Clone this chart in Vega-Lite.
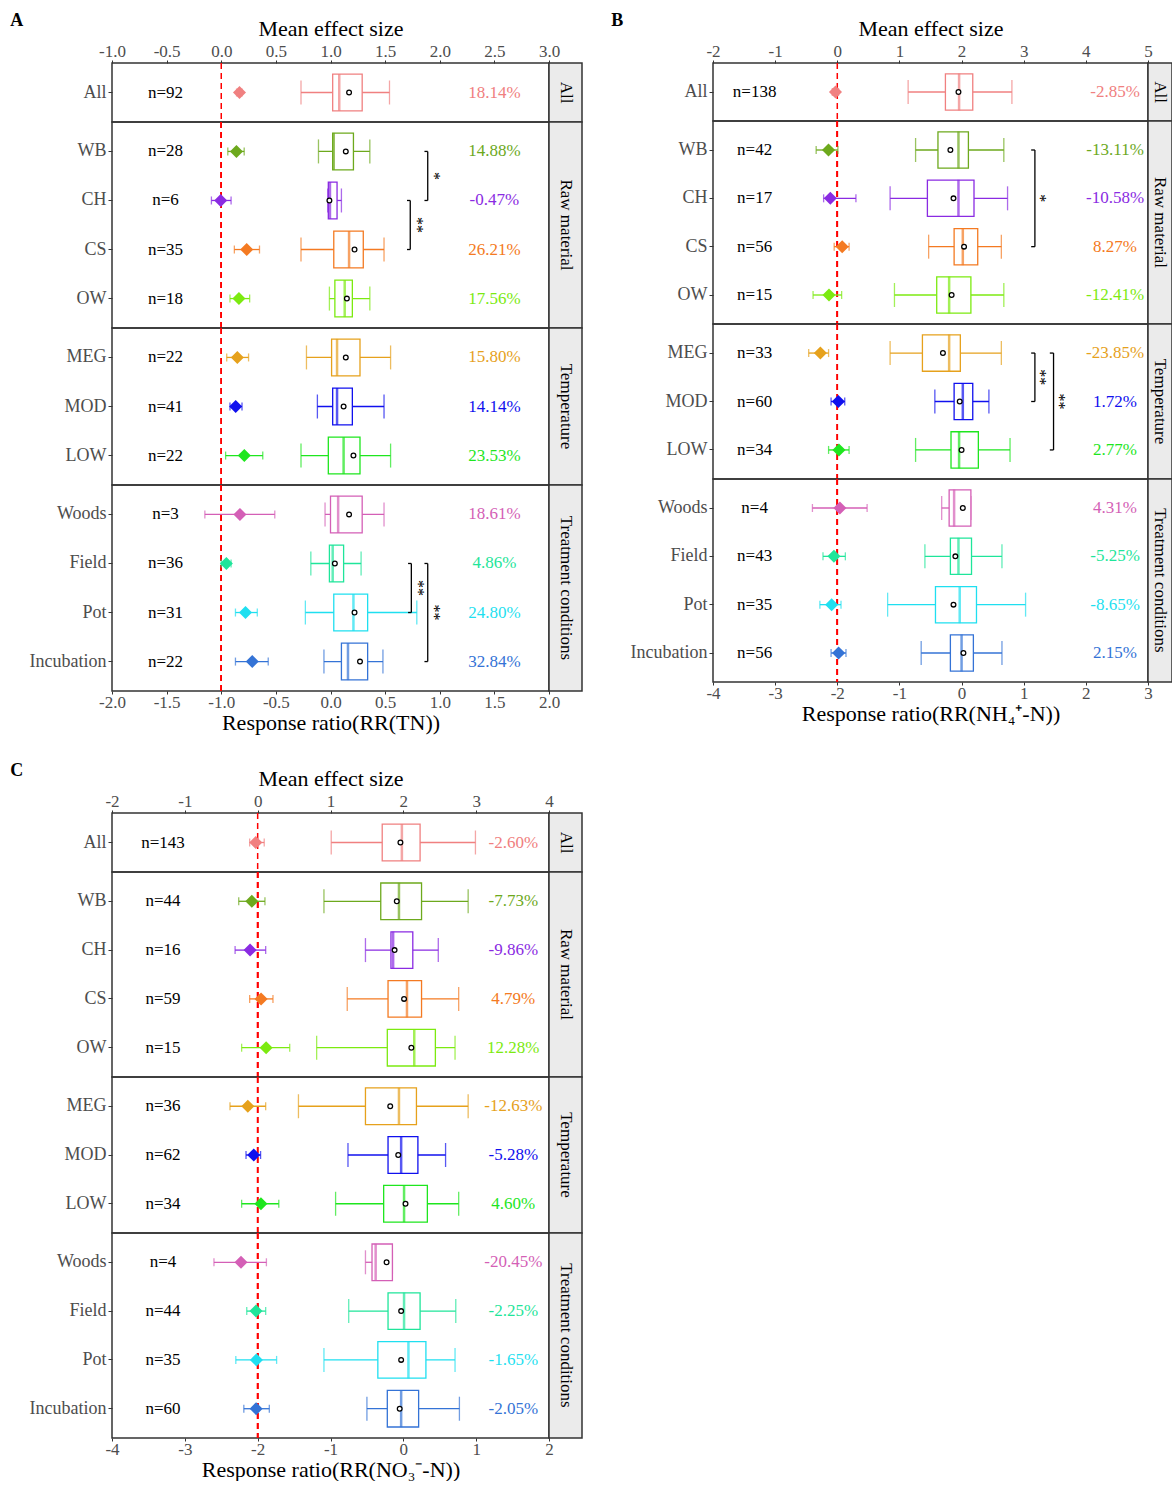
{
"$schema": "https://vega.github.io/schema/vega-lite/v6.json",
"background": "white",
"padding": {"left": 10, "top": 12, "right": 0, "bottom": 0},
"datasets": {
"A": [
{"g":"All","c":"All","n":"n=92","pct":"18.14%","es":0.167,"elo":0.14,"ehi":0.19,"wlo":-0.27,"q1":0.02,"med":0.08,"q3":0.29,"whi":0.54,"mean":0.17},
{"g":"Raw material","c":"WB","n":"n=28","pct":"14.88%","es":0.139,"elo":0.06,"ehi":0.21,"wlo":-0.11,"q1":0.02,"med":0.03,"q3":0.21,"whi":0.36,"mean":0.14},
{"g":"Raw material","c":"CH","n":"n=6","pct":"-0.47%","es":-0.005,"elo":-0.09,"ehi":0.09,"wlo":-0.025,"q1":-0.02,"med":-0.005,"q3":0.06,"whi":0.10,"mean":-0.01},
{"g":"Raw material","c":"CS","n":"n=35","pct":"26.21%","es":0.233,"elo":0.12,"ehi":0.35,"wlo":-0.27,"q1":0.03,"med":0.17,"q3":0.30,"whi":0.49,"mean":0.22},
{"g":"Raw material","c":"OW","n":"n=18","pct":"17.56%","es":0.162,"elo":0.08,"ehi":0.26,"wlo":-0.01,"q1":0.04,"med":0.13,"q3":0.20,"whi":0.36,"mean":0.15},
{"g":"Temperature","c":"MEG","n":"n=22","pct":"15.80%","es":0.147,"elo":0.05,"ehi":0.25,"wlo":-0.22,"q1":0.01,"med":0.06,"q3":0.27,"whi":0.55,"mean":0.14},
{"g":"Temperature","c":"MOD","n":"n=41","pct":"14.14%","es":0.132,"elo":0.08,"ehi":0.19,"wlo":-0.12,"q1":0.02,"med":0.06,"q3":0.20,"whi":0.49,"mean":0.12},
{"g":"Temperature","c":"LOW","n":"n=22","pct":"23.53%","es":0.211,"elo":0.04,"ehi":0.38,"wlo":-0.27,"q1":-0.02,"med":0.12,"q3":0.27,"whi":0.55,"mean":0.21},
{"g":"Treatment conditions","c":"Woods","n":"n=3","pct":"18.61%","es":0.171,"elo":-0.15,"ehi":0.49,"wlo":-0.05,"q1":0.0,"med":0.07,"q3":0.29,"whi":0.49,"mean":0.17},
{"g":"Treatment conditions","c":"Field","n":"n=36","pct":"4.86%","es":0.047,"elo":0.0,"ehi":0.09,"wlo":-0.18,"q1":-0.01,"med":0.02,"q3":0.12,"whi":0.28,"mean":0.04},
{"g":"Treatment conditions","c":"Pot","n":"n=31","pct":"24.80%","es":0.222,"elo":0.13,"ehi":0.33,"wlo":-0.23,"q1":0.03,"med":0.21,"q3":0.34,"whi":0.79,"mean":0.22},
{"g":"Treatment conditions","c":"Incubation","n":"n=22","pct":"32.84%","es":0.284,"elo":0.13,"ehi":0.43,"wlo":-0.06,"q1":0.10,"med":0.16,"q3":0.34,"whi":0.48,"mean":0.27}
],
"B": [
{"g":"All","c":"All","n":"n=138","pct":"-2.85%","es":-0.029,"elo":-0.08,"ehi":0.02,"wlo":-0.86,"q1":-0.26,"med":-0.04,"q3":0.18,"whi":0.81,"mean":-0.05},
{"g":"Raw material","c":"WB","n":"n=42","pct":"-13.11%","es":-0.141,"elo":-0.34,"ehi":0.01,"wlo":-0.74,"q1":-0.38,"med":-0.05,"q3":0.11,"whi":0.68,"mean":-0.18},
{"g":"Raw material","c":"CH","n":"n=17","pct":"-10.58%","es":-0.112,"elo":-0.22,"ehi":0.30,"wlo":-1.15,"q1":-0.55,"med":-0.05,"q3":0.20,"whi":0.74,"mean":-0.13},
{"g":"Raw material","c":"CS","n":"n=56","pct":"8.27%","es":0.079,"elo":-0.05,"ehi":0.19,"wlo":-0.53,"q1":-0.12,"med":0.02,"q3":0.26,"whi":0.64,"mean":0.04},
{"g":"Raw material","c":"OW","n":"n=15","pct":"-12.41%","es":-0.133,"elo":-0.39,"ehi":0.07,"wlo":-1.08,"q1":-0.40,"med":-0.20,"q3":0.15,"whi":0.68,"mean":-0.16},
{"g":"Temperature","c":"MEG","n":"n=33","pct":"-23.85%","es":-0.272,"elo":-0.46,"ehi":-0.14,"wlo":-1.15,"q1":-0.63,"med":-0.20,"q3":-0.02,"whi":0.64,"mean":-0.30},
{"g":"Temperature","c":"MOD","n":"n=60","pct":"1.72%","es":0.017,"elo":-0.10,"ehi":0.12,"wlo":-0.43,"q1":-0.12,"med":0.02,"q3":0.18,"whi":0.44,"mean":-0.03},
{"g":"Temperature","c":"LOW","n":"n=34","pct":"2.77%","es":0.027,"elo":-0.14,"ehi":0.19,"wlo":-0.74,"q1":-0.17,"med":-0.04,"q3":0.27,"whi":0.78,"mean":0.0},
{"g":"Treatment conditions","c":"Woods","n":"n=4","pct":"4.31%","es":0.042,"elo":-0.40,"ehi":0.48,"wlo":-0.32,"q1":-0.20,"med":-0.12,"q3":0.15,"whi":0.15,"mean":0.02},
{"g":"Treatment conditions","c":"Field","n":"n=43","pct":"-5.25%","es":-0.054,"elo":-0.23,"ehi":0.13,"wlo":-0.59,"q1":-0.18,"med":-0.05,"q3":0.16,"whi":0.65,"mean":-0.10},
{"g":"Treatment conditions","c":"Pot","n":"n=35","pct":"-8.65%","es":-0.091,"elo":-0.28,"ehi":0.06,"wlo":-1.19,"q1":-0.42,"med":-0.03,"q3":0.24,"whi":1.03,"mean":-0.13},
{"g":"Treatment conditions","c":"Incubation","n":"n=56","pct":"2.15%","es":0.021,"elo":-0.10,"ehi":0.14,"wlo":-0.65,"q1":-0.18,"med":0.0,"q3":0.19,"whi":0.65,"mean":0.03}
],
"C": [
{"g":"All","c":"All","n":"n=143","pct":"-2.60%","es":-0.026,"elo":-0.11,"ehi":0.09,"wlo":-0.99,"q1":-0.29,"med":-0.02,"q3":0.23,"whi":0.99,"mean":-0.04},
{"g":"Raw material","c":"WB","n":"n=44","pct":"-7.73%","es":-0.080,"elo":-0.26,"ehi":0.10,"wlo":-1.09,"q1":-0.31,"med":-0.06,"q3":0.25,"whi":0.89,"mean":-0.09},
{"g":"Raw material","c":"CH","n":"n=16","pct":"-9.86%","es":-0.104,"elo":-0.31,"ehi":0.11,"wlo":-0.52,"q1":-0.17,"med":-0.14,"q3":0.13,"whi":0.48,"mean":-0.12},
{"g":"Raw material","c":"CS","n":"n=59","pct":"4.79%","es":0.047,"elo":-0.11,"ehi":0.21,"wlo":-0.77,"q1":-0.21,"med":0.05,"q3":0.25,"whi":0.76,"mean":0.01},
{"g":"Raw material","c":"OW","n":"n=15","pct":"12.28%","es":0.116,"elo":-0.22,"ehi":0.44,"wlo":-1.19,"q1":-0.22,"med":0.15,"q3":0.44,"whi":0.71,"mean":0.11},
{"g":"Temperature","c":"MEG","n":"n=36","pct":"-12.63%","es":-0.135,"elo":-0.38,"ehi":0.11,"wlo":-1.44,"q1":-0.52,"med":-0.06,"q3":0.18,"whi":0.89,"mean":-0.18},
{"g":"Temperature","c":"MOD","n":"n=62","pct":"-5.28%","es":-0.054,"elo":-0.16,"ehi":0.04,"wlo":-0.76,"q1":-0.21,"med":-0.03,"q3":0.20,"whi":0.58,"mean":-0.07},
{"g":"Temperature","c":"LOW","n":"n=34","pct":"4.60%","es":0.045,"elo":-0.22,"ehi":0.29,"wlo":-0.93,"q1":-0.27,"med":0.01,"q3":0.33,"whi":0.76,"mean":0.03},
{"g":"Treatment conditions","c":"Woods","n":"n=4","pct":"-20.45%","es":-0.229,"elo":-0.60,"ehi":0.12,"wlo":-0.52,"q1":-0.43,"med":-0.38,"q3":-0.15,"whi":-0.15,"mean":-0.23},
{"g":"Treatment conditions","c":"Field","n":"n=44","pct":"-2.25%","es":-0.023,"elo":-0.15,"ehi":0.11,"wlo":-0.75,"q1":-0.21,"med":0.01,"q3":0.23,"whi":0.72,"mean":-0.03},
{"g":"Treatment conditions","c":"Pot","n":"n=35","pct":"-1.65%","es":-0.017,"elo":-0.30,"ehi":0.26,"wlo":-1.09,"q1":-0.35,"med":0.07,"q3":0.31,"whi":0.71,"mean":-0.03},
{"g":"Treatment conditions","c":"Incubation","n":"n=60","pct":"-2.05%","es":-0.021,"elo":-0.19,"ehi":0.16,"wlo":-0.50,"q1":-0.22,"med":-0.03,"q3":0.21,"whi":0.77,"mean":-0.05}
],
"brk": [
{"p":"A","g":"Raw material","from":"WB","to":"CH","bx":0.89,"cx":0.86,"sx":0.95,"star":"*","srow":"WB","mid":false},
{"p":"A","g":"Raw material","from":"CH","to":"CS","bx":0.73,"cx":0.70,"sx":0.79,"star":"**","srow":"CH","mid":false},
{"p":"A","g":"Treatment conditions","from":"Field","to":"Pot","bx":0.74,"cx":0.71,"sx":0.80,"star":"**","srow":"Field","mid":false},
{"p":"A","g":"Treatment conditions","from":"Field","to":"Incubation","bx":0.89,"cx":0.86,"sx":0.95,"star":"**","srow":"Pot","mid":true},
{"p":"B","g":"Raw material","from":"WB","to":"CS","bx":1.18,"cx":1.12,"sx":1.27,"star":"*","srow":"CH","mid":true},
{"p":"B","g":"Temperature","from":"MEG","to":"MOD","bx":1.18,"cx":1.12,"sx":1.27,"star":"**","srow":"MEG","mid":false},
{"p":"B","g":"Temperature","from":"MEG","to":"LOW","bx":1.48,"cx":1.42,"sx":1.57,"star":"**","srow":"MOD","mid":true}
]
},
"spacing": 28,
"vconcat": [
{"hconcat": [
{"title": {"text": "A", "anchor": "start", "frame": "bounds", "fontSize": 18, "fontWeight": "bold", "dx": -18, "dy": 18},
 "columns": 2, "align": "each", "spacing": 0, "bounds": "flush",
 "concat": [
{"width":437,"height":59,"data":{"name":"A"},"transform":[{"filter":"datum.g=='All'"}],"resolve":{"scale":{"x":"independent"},"axis":{"x":"independent"}},"layer":[
{"mark":{"type":"rule","color":"#FF0000","strokeDash":[6,4],"strokeWidth":1.5},"encoding":{"x":{"datum":0,"type":"quantitative","scale":{"domain":[-1,3],"nice":false,"zero":false},"axis":null}}},
{"encoding":{"y":{"field":"c","type":"nominal","title":null,"scale":{"type":"band","paddingInner":0,"paddingOuter":0.1,"domain":["All"]}},"color":{"field":"c","type":"nominal","scale":{"domain":["All","CH","CS","Field","Incubation","LOW","MEG","MOD","OW","Pot","WB","Woods"],"range":["#F08080","#8A2BE2","#F47A22","#1FE59A","#3473D6","#1EE61E","#E6A11C","#1010EE","#7CEA10","#1FDFF0","#6DA91D","#D45FB6"]}}},"layer":[
{"mark":{"type":"errorbar","ticks":true,"size":8,"thickness":1.3},"encoding":{"x":{"field":"elo","type":"quantitative","title":"Mean effect size","scale":{"domain":[-1,3],"nice":false,"zero":false}},"x2":{"field":"ehi"}}},
{"mark":{"type":"point","shape":"diamond","filled":true,"size":170,"opacity":1},"encoding":{"x":{"field":"es","type":"quantitative","title":"Mean effect size","scale":{"domain":[-1,3],"nice":false,"zero":false},"axis":{"orient":"top","title":"Mean effect size","values":[-1,-0.5,0,0.5,1,1.5,2,2.5,3],"format":".1f","labelFlush":false}}}},
{"mark":{"type":"text","fontSize":17},"encoding":{"x":{"datum":-0.51,"type":"quantitative"},"text":{"field":"n"},"color":{"value":"black"}}},
{"mark":{"type":"text","fontSize":17},"encoding":{"x":{"datum":2.5,"type":"quantitative"},"text":{"field":"pct"}}}]},
{"encoding":{"y":{"field":"c","type":"nominal","title":null,"scale":{"type":"band","paddingInner":0,"paddingOuter":0.1,"domain":["All"]}},"color":{"field":"c","type":"nominal"}},"layer":[
{"mark":{"type":"errorbar","ticks":true,"size":24,"thickness":1.3},"encoding":{"x":{"field":"wlo","type":"quantitative","scale":{"domain":[-2,2],"nice":false,"zero":false},"axis":null},"x2":{"field":"whi"}}},
{"mark":{"type":"bar","filled":false,"fill":"white","strokeWidth":1.3,"height":{"band":0.75}},"encoding":{"x":{"field":"q1","type":"quantitative","axis":null},"x2":{"field":"q3"}}},
{"mark":{"type":"tick","size":37,"thickness":2.5},"encoding":{"x":{"field":"med","type":"quantitative","axis":null}}},
{"mark":{"type":"point","shape":"circle","filled":false,"fill":"white","size":22,"strokeWidth":1.3,"opacity":1},"encoding":{"x":{"field":"mean","type":"quantitative","axis":null},"color":{"value":"black"}}}]}]},
{"width":33,"height":59,"view":{"fill":"#EBEBEB","stroke":"#333333","strokeWidth":1.5},"data":{"values":[{"s":"All"}]},"mark":{"type":"text","angle":90,"fontSize":17,"color":"black"},"encoding":{"text":{"field":"s"}}},

{"width":437,"height":206,"data":{"name":"A"},"transform":[{"filter":"datum.g=='Raw material'"}],"resolve":{"scale":{"x":"independent"},"axis":{"x":"independent"}},"layer":[
{"mark":{"type":"rule","color":"#FF0000","strokeDash":[6,4],"strokeWidth":1.5},"encoding":{"x":{"datum":0,"type":"quantitative","scale":{"domain":[-1,3],"nice":false,"zero":false},"axis":null}}},
{"encoding":{"y":{"field":"c","type":"nominal","title":null,"scale":{"type":"band","paddingInner":0,"paddingOuter":0.1,"domain":["WB","CH","CS","OW"]}},"color":{"field":"c","type":"nominal"}},"layer":[
{"mark":{"type":"errorbar","ticks":true,"size":8,"thickness":1.3},"encoding":{"x":{"field":"elo","type":"quantitative","scale":{"domain":[-1,3],"nice":false,"zero":false},"axis":null},"x2":{"field":"ehi"}}},
{"mark":{"type":"point","shape":"diamond","filled":true,"size":170,"opacity":1},"encoding":{"x":{"field":"es","type":"quantitative","axis":null}}},
{"mark":{"type":"text","fontSize":17},"encoding":{"x":{"datum":-0.51,"type":"quantitative","axis":null},"text":{"field":"n"},"color":{"value":"black"}}},
{"mark":{"type":"text","fontSize":17},"encoding":{"x":{"datum":2.5,"type":"quantitative","axis":null},"text":{"field":"pct"}}}]},
{"encoding":{"y":{"field":"c","type":"nominal","title":null,"scale":{"type":"band","paddingInner":0,"paddingOuter":0.1,"domain":["WB","CH","CS","OW"]}},"color":{"field":"c","type":"nominal"}},"layer":[
{"mark":{"type":"errorbar","ticks":true,"size":24,"thickness":1.3},"encoding":{"x":{"field":"wlo","type":"quantitative","scale":{"domain":[-2,2],"nice":false,"zero":false},"axis":null},"x2":{"field":"whi"}}},
{"mark":{"type":"bar","filled":false,"fill":"white","strokeWidth":1.3,"height":{"band":0.75}},"encoding":{"x":{"field":"q1","type":"quantitative","axis":null},"x2":{"field":"q3"}}},
{"mark":{"type":"tick","size":37,"thickness":2.5},"encoding":{"x":{"field":"med","type":"quantitative","axis":null}}},
{"mark":{"type":"point","shape":"circle","filled":false,"fill":"white","size":22,"strokeWidth":1.3,"opacity":1},"encoding":{"x":{"field":"mean","type":"quantitative","axis":null},"color":{"value":"black"}}},
{"data":{"name":"brk"},"transform":[{"filter":"datum.p=='A' && datum.g=='Raw material'"}],"mark":{"type":"rule","strokeWidth":1.3},"encoding":{"x":{"field":"bx","type":"quantitative","axis":null},"y":{"field":"from","type":"nominal","title":null},"y2":{"field":"to"},"color":{"value":"black"}}},
{"data":{"name":"brk"},"transform":[{"filter":"datum.p=='A' && datum.g=='Raw material'"}],"mark":{"type":"rule","strokeWidth":1.3},"encoding":{"x":{"field":"cx","type":"quantitative","axis":null},"x2":{"field":"bx"},"y":{"field":"from","type":"nominal","title":null},"color":{"value":"black"}}},
{"data":{"name":"brk"},"transform":[{"filter":"datum.p=='A' && datum.g=='Raw material'"}],"mark":{"type":"rule","strokeWidth":1.3},"encoding":{"x":{"field":"cx","type":"quantitative","axis":null},"x2":{"field":"bx"},"y":{"field":"to","type":"nominal","title":null},"color":{"value":"black"}}},
{"data":{"name":"brk"},"transform":[{"filter":"datum.p=='A' && datum.g=='Raw material' && !datum.mid"}],"mark":{"type":"text","angle":90,"fontSize":16},"encoding":{"x":{"field":"sx","type":"quantitative","axis":null},"y":{"field":"srow","type":"nominal","bandPosition":1,"title":null},"text":{"field":"star"},"color":{"value":"black"}}},
{"data":{"name":"brk"},"transform":[{"filter":"datum.p=='A' && datum.g=='Raw material' && datum.mid"}],"mark":{"type":"text","angle":90,"fontSize":16},"encoding":{"x":{"field":"sx","type":"quantitative","axis":null},"y":{"field":"srow","type":"nominal","bandPosition":0.5,"title":null},"text":{"field":"star"},"color":{"value":"black"}}}]}]},
{"width":33,"height":206,"view":{"fill":"#EBEBEB","stroke":"#333333","strokeWidth":1.5},"data":{"values":[{"s":"Raw material"}]},"mark":{"type":"text","angle":90,"fontSize":17,"color":"black"},"encoding":{"text":{"field":"s"}}},

{"width":437,"height":157,"data":{"name":"A"},"transform":[{"filter":"datum.g=='Temperature'"}],"resolve":{"scale":{"x":"independent"},"axis":{"x":"independent"}},"layer":[
{"mark":{"type":"rule","color":"#FF0000","strokeDash":[6,4],"strokeWidth":1.5},"encoding":{"x":{"datum":0,"type":"quantitative","scale":{"domain":[-1,3],"nice":false,"zero":false},"axis":null}}},
{"encoding":{"y":{"field":"c","type":"nominal","title":null,"scale":{"type":"band","paddingInner":0,"paddingOuter":0.1,"domain":["MEG","MOD","LOW"]}},"color":{"field":"c","type":"nominal"}},"layer":[
{"mark":{"type":"errorbar","ticks":true,"size":8,"thickness":1.3},"encoding":{"x":{"field":"elo","type":"quantitative","scale":{"domain":[-1,3],"nice":false,"zero":false},"axis":null},"x2":{"field":"ehi"}}},
{"mark":{"type":"point","shape":"diamond","filled":true,"size":170,"opacity":1},"encoding":{"x":{"field":"es","type":"quantitative","axis":null}}},
{"mark":{"type":"text","fontSize":17},"encoding":{"x":{"datum":-0.51,"type":"quantitative","axis":null},"text":{"field":"n"},"color":{"value":"black"}}},
{"mark":{"type":"text","fontSize":17},"encoding":{"x":{"datum":2.5,"type":"quantitative","axis":null},"text":{"field":"pct"}}}]},
{"encoding":{"y":{"field":"c","type":"nominal","title":null,"scale":{"type":"band","paddingInner":0,"paddingOuter":0.1,"domain":["MEG","MOD","LOW"]}},"color":{"field":"c","type":"nominal"}},"layer":[
{"mark":{"type":"errorbar","ticks":true,"size":24,"thickness":1.3},"encoding":{"x":{"field":"wlo","type":"quantitative","scale":{"domain":[-2,2],"nice":false,"zero":false},"axis":null},"x2":{"field":"whi"}}},
{"mark":{"type":"bar","filled":false,"fill":"white","strokeWidth":1.3,"height":{"band":0.75}},"encoding":{"x":{"field":"q1","type":"quantitative","axis":null},"x2":{"field":"q3"}}},
{"mark":{"type":"tick","size":37,"thickness":2.5},"encoding":{"x":{"field":"med","type":"quantitative","axis":null}}},
{"mark":{"type":"point","shape":"circle","filled":false,"fill":"white","size":22,"strokeWidth":1.3,"opacity":1},"encoding":{"x":{"field":"mean","type":"quantitative","axis":null},"color":{"value":"black"}}}]}]},
{"width":33,"height":157,"view":{"fill":"#EBEBEB","stroke":"#333333","strokeWidth":1.5},"data":{"values":[{"s":"Temperature"}]},"mark":{"type":"text","angle":90,"fontSize":17,"color":"black"},"encoding":{"text":{"field":"s"}}},

{"width":437,"height":206,"data":{"name":"A"},"transform":[{"filter":"datum.g=='Treatment conditions'"}],"resolve":{"scale":{"x":"independent"},"axis":{"x":"independent"}},"layer":[
{"mark":{"type":"rule","color":"#FF0000","strokeDash":[6,4],"strokeWidth":1.5},"encoding":{"x":{"datum":0,"type":"quantitative","scale":{"domain":[-1,3],"nice":false,"zero":false},"axis":null}}},
{"encoding":{"y":{"field":"c","type":"nominal","title":null,"scale":{"type":"band","paddingInner":0,"paddingOuter":0.1,"domain":["Woods","Field","Pot","Incubation"]}},"color":{"field":"c","type":"nominal"}},"layer":[
{"mark":{"type":"errorbar","ticks":true,"size":8,"thickness":1.3},"encoding":{"x":{"field":"elo","type":"quantitative","scale":{"domain":[-1,3],"nice":false,"zero":false},"axis":null},"x2":{"field":"ehi"}}},
{"mark":{"type":"point","shape":"diamond","filled":true,"size":170,"opacity":1},"encoding":{"x":{"field":"es","type":"quantitative","axis":null}}},
{"mark":{"type":"text","fontSize":17},"encoding":{"x":{"datum":-0.51,"type":"quantitative","axis":null},"text":{"field":"n"},"color":{"value":"black"}}},
{"mark":{"type":"text","fontSize":17},"encoding":{"x":{"datum":2.5,"type":"quantitative","axis":null},"text":{"field":"pct"}}}]},
{"encoding":{"y":{"field":"c","type":"nominal","title":null,"scale":{"type":"band","paddingInner":0,"paddingOuter":0.1,"domain":["Woods","Field","Pot","Incubation"]}},"color":{"field":"c","type":"nominal"}},"layer":[
{"mark":{"type":"errorbar","ticks":true,"size":24,"thickness":1.3},"encoding":{"x":{"field":"wlo","type":"quantitative","title":"Response ratio(RR(TN))","scale":{"domain":[-2,2],"nice":false,"zero":false}},"x2":{"field":"whi"}}},
{"mark":{"type":"bar","filled":false,"fill":"white","strokeWidth":1.3,"height":{"band":0.75}},"encoding":{"x":{"field":"q1","type":"quantitative","title":"Response ratio(RR(TN))","scale":{"domain":[-2,2],"nice":false,"zero":false},"axis":{"orient":"bottom","title":"Response ratio(RR(TN))","values":[-2,-1.5,-1,-0.5,0,0.5,1,1.5,2],"format":".1f","labelFlush":false}},"x2":{"field":"q3"}}},
{"mark":{"type":"tick","size":37,"thickness":2.5},"encoding":{"x":{"field":"med","type":"quantitative"}}},
{"mark":{"type":"point","shape":"circle","filled":false,"fill":"white","size":22,"strokeWidth":1.3,"opacity":1},"encoding":{"x":{"field":"mean","type":"quantitative"},"color":{"value":"black"}}},
{"data":{"name":"brk"},"transform":[{"filter":"datum.p=='A' && datum.g=='Treatment conditions'"}],"mark":{"type":"rule","strokeWidth":1.3},"encoding":{"x":{"field":"bx","type":"quantitative"},"y":{"field":"from","type":"nominal","title":null},"y2":{"field":"to"},"color":{"value":"black"}}},
{"data":{"name":"brk"},"transform":[{"filter":"datum.p=='A' && datum.g=='Treatment conditions'"}],"mark":{"type":"rule","strokeWidth":1.3},"encoding":{"x":{"field":"cx","type":"quantitative"},"x2":{"field":"bx"},"y":{"field":"from","type":"nominal","title":null},"color":{"value":"black"}}},
{"data":{"name":"brk"},"transform":[{"filter":"datum.p=='A' && datum.g=='Treatment conditions'"}],"mark":{"type":"rule","strokeWidth":1.3},"encoding":{"x":{"field":"cx","type":"quantitative"},"x2":{"field":"bx"},"y":{"field":"to","type":"nominal","title":null},"color":{"value":"black"}}},
{"data":{"name":"brk"},"transform":[{"filter":"datum.p=='A' && datum.g=='Treatment conditions' && !datum.mid"}],"mark":{"type":"text","angle":90,"fontSize":16},"encoding":{"x":{"field":"sx","type":"quantitative"},"y":{"field":"srow","type":"nominal","bandPosition":1,"title":null},"text":{"field":"star"},"color":{"value":"black"}}},
{"data":{"name":"brk"},"transform":[{"filter":"datum.p=='A' && datum.g=='Treatment conditions' && datum.mid"}],"mark":{"type":"text","angle":90,"fontSize":16},"encoding":{"x":{"field":"sx","type":"quantitative"},"y":{"field":"srow","type":"nominal","bandPosition":0.5,"title":null},"text":{"field":"star"},"color":{"value":"black"}}}]}]},
{"width":33,"height":206,"view":{"fill":"#EBEBEB","stroke":"#333333","strokeWidth":1.5},"data":{"values":[{"s":"Treatment conditions"}]},"mark":{"type":"text","angle":90,"fontSize":17,"color":"black"},"encoding":{"text":{"field":"s"}}}
]},

{"title": {"text": "B", "anchor": "start", "frame": "bounds", "fontSize": 18, "fontWeight": "bold", "dx": -18, "dy": 18},
 "columns": 2, "align": "each", "spacing": 0, "bounds": "flush",
 "concat": [
{"width":435,"height":58,"data":{"name":"B"},"transform":[{"filter":"datum.g=='All'"}],"resolve":{"scale":{"x":"independent"},"axis":{"x":"independent"}},"layer":[
{"mark":{"type":"rule","color":"#FF0000","strokeDash":[6,4],"strokeWidth":1.5},"encoding":{"x":{"datum":0,"type":"quantitative","scale":{"domain":[-2,5],"nice":false,"zero":false},"axis":null}}},
{"encoding":{"y":{"field":"c","type":"nominal","title":null,"scale":{"type":"band","paddingInner":0,"paddingOuter":0.1,"domain":["All"]}},"color":{"field":"c","type":"nominal"}},"layer":[
{"mark":{"type":"errorbar","ticks":true,"size":8,"thickness":1.3},"encoding":{"x":{"field":"elo","type":"quantitative","title":"Mean effect size","scale":{"domain":[-2,5],"nice":false,"zero":false}},"x2":{"field":"ehi"}}},
{"mark":{"type":"point","shape":"diamond","filled":true,"size":170,"opacity":1},"encoding":{"x":{"field":"es","type":"quantitative","title":"Mean effect size","scale":{"domain":[-2,5],"nice":false,"zero":false},"axis":{"orient":"top","title":"Mean effect size","values":[-2,-1,0,1,2,3,4,5],"format":"d","labelFlush":false}}}},
{"mark":{"type":"text","fontSize":17},"encoding":{"x":{"datum":-1.33,"type":"quantitative"},"text":{"field":"n"},"color":{"value":"black"}}},
{"mark":{"type":"text","fontSize":17},"encoding":{"x":{"datum":4.47,"type":"quantitative"},"text":{"field":"pct"}}}]},
{"encoding":{"y":{"field":"c","type":"nominal","title":null,"scale":{"type":"band","paddingInner":0,"paddingOuter":0.1,"domain":["All"]}},"color":{"field":"c","type":"nominal"}},"layer":[
{"mark":{"type":"errorbar","ticks":true,"size":24,"thickness":1.3},"encoding":{"x":{"field":"wlo","type":"quantitative","scale":{"domain":[-4,3],"nice":false,"zero":false},"axis":null},"x2":{"field":"whi"}}},
{"mark":{"type":"bar","filled":false,"fill":"white","strokeWidth":1.3,"height":{"band":0.75}},"encoding":{"x":{"field":"q1","type":"quantitative","axis":null},"x2":{"field":"q3"}}},
{"mark":{"type":"tick","size":37,"thickness":2.5},"encoding":{"x":{"field":"med","type":"quantitative","axis":null}}},
{"mark":{"type":"point","shape":"circle","filled":false,"fill":"white","size":22,"strokeWidth":1.3,"opacity":1},"encoding":{"x":{"field":"mean","type":"quantitative","axis":null},"color":{"value":"black"}}}]}]},
{"width":24,"height":58,"view":{"fill":"#EBEBEB","stroke":"#333333","strokeWidth":1.5},"data":{"values":[{"s":"All"}]},"mark":{"type":"text","angle":90,"fontSize":17,"color":"black"},"encoding":{"text":{"field":"s"}}},

{"width":435,"height":203,"data":{"name":"B"},"transform":[{"filter":"datum.g=='Raw material'"}],"resolve":{"scale":{"x":"independent"},"axis":{"x":"independent"}},"layer":[
{"mark":{"type":"rule","color":"#FF0000","strokeDash":[6,4],"strokeWidth":1.5},"encoding":{"x":{"datum":0,"type":"quantitative","scale":{"domain":[-2,5],"nice":false,"zero":false},"axis":null}}},
{"encoding":{"y":{"field":"c","type":"nominal","title":null,"scale":{"type":"band","paddingInner":0,"paddingOuter":0.1,"domain":["WB","CH","CS","OW"]}},"color":{"field":"c","type":"nominal"}},"layer":[
{"mark":{"type":"errorbar","ticks":true,"size":8,"thickness":1.3},"encoding":{"x":{"field":"elo","type":"quantitative","scale":{"domain":[-2,5],"nice":false,"zero":false},"axis":null},"x2":{"field":"ehi"}}},
{"mark":{"type":"point","shape":"diamond","filled":true,"size":170,"opacity":1},"encoding":{"x":{"field":"es","type":"quantitative","axis":null}}},
{"mark":{"type":"text","fontSize":17},"encoding":{"x":{"datum":-1.33,"type":"quantitative","axis":null},"text":{"field":"n"},"color":{"value":"black"}}},
{"mark":{"type":"text","fontSize":17},"encoding":{"x":{"datum":4.47,"type":"quantitative","axis":null},"text":{"field":"pct"}}}]},
{"encoding":{"y":{"field":"c","type":"nominal","title":null,"scale":{"type":"band","paddingInner":0,"paddingOuter":0.1,"domain":["WB","CH","CS","OW"]}},"color":{"field":"c","type":"nominal"}},"layer":[
{"mark":{"type":"errorbar","ticks":true,"size":24,"thickness":1.3},"encoding":{"x":{"field":"wlo","type":"quantitative","scale":{"domain":[-4,3],"nice":false,"zero":false},"axis":null},"x2":{"field":"whi"}}},
{"mark":{"type":"bar","filled":false,"fill":"white","strokeWidth":1.3,"height":{"band":0.75}},"encoding":{"x":{"field":"q1","type":"quantitative","axis":null},"x2":{"field":"q3"}}},
{"mark":{"type":"tick","size":37,"thickness":2.5},"encoding":{"x":{"field":"med","type":"quantitative","axis":null}}},
{"mark":{"type":"point","shape":"circle","filled":false,"fill":"white","size":22,"strokeWidth":1.3,"opacity":1},"encoding":{"x":{"field":"mean","type":"quantitative","axis":null},"color":{"value":"black"}}},
{"data":{"name":"brk"},"transform":[{"filter":"datum.p=='B' && datum.g=='Raw material'"}],"mark":{"type":"rule","strokeWidth":1.3},"encoding":{"x":{"field":"bx","type":"quantitative","axis":null},"y":{"field":"from","type":"nominal","title":null},"y2":{"field":"to"},"color":{"value":"black"}}},
{"data":{"name":"brk"},"transform":[{"filter":"datum.p=='B' && datum.g=='Raw material'"}],"mark":{"type":"rule","strokeWidth":1.3},"encoding":{"x":{"field":"cx","type":"quantitative","axis":null},"x2":{"field":"bx"},"y":{"field":"from","type":"nominal","title":null},"color":{"value":"black"}}},
{"data":{"name":"brk"},"transform":[{"filter":"datum.p=='B' && datum.g=='Raw material'"}],"mark":{"type":"rule","strokeWidth":1.3},"encoding":{"x":{"field":"cx","type":"quantitative","axis":null},"x2":{"field":"bx"},"y":{"field":"to","type":"nominal","title":null},"color":{"value":"black"}}},
{"data":{"name":"brk"},"transform":[{"filter":"datum.p=='B' && datum.g=='Raw material' && !datum.mid"}],"mark":{"type":"text","angle":90,"fontSize":16},"encoding":{"x":{"field":"sx","type":"quantitative","axis":null},"y":{"field":"srow","type":"nominal","bandPosition":1,"title":null},"text":{"field":"star"},"color":{"value":"black"}}},
{"data":{"name":"brk"},"transform":[{"filter":"datum.p=='B' && datum.g=='Raw material' && datum.mid"}],"mark":{"type":"text","angle":90,"fontSize":16},"encoding":{"x":{"field":"sx","type":"quantitative","axis":null},"y":{"field":"srow","type":"nominal","bandPosition":0.5,"title":null},"text":{"field":"star"},"color":{"value":"black"}}}]}]},
{"width":24,"height":203,"view":{"fill":"#EBEBEB","stroke":"#333333","strokeWidth":1.5},"data":{"values":[{"s":"Raw material"}]},"mark":{"type":"text","angle":90,"fontSize":17,"color":"black"},"encoding":{"text":{"field":"s"}}},

{"width":435,"height":155,"data":{"name":"B"},"transform":[{"filter":"datum.g=='Temperature'"}],"resolve":{"scale":{"x":"independent"},"axis":{"x":"independent"}},"layer":[
{"mark":{"type":"rule","color":"#FF0000","strokeDash":[6,4],"strokeWidth":1.5},"encoding":{"x":{"datum":0,"type":"quantitative","scale":{"domain":[-2,5],"nice":false,"zero":false},"axis":null}}},
{"encoding":{"y":{"field":"c","type":"nominal","title":null,"scale":{"type":"band","paddingInner":0,"paddingOuter":0.1,"domain":["MEG","MOD","LOW"]}},"color":{"field":"c","type":"nominal"}},"layer":[
{"mark":{"type":"errorbar","ticks":true,"size":8,"thickness":1.3},"encoding":{"x":{"field":"elo","type":"quantitative","scale":{"domain":[-2,5],"nice":false,"zero":false},"axis":null},"x2":{"field":"ehi"}}},
{"mark":{"type":"point","shape":"diamond","filled":true,"size":170,"opacity":1},"encoding":{"x":{"field":"es","type":"quantitative","axis":null}}},
{"mark":{"type":"text","fontSize":17},"encoding":{"x":{"datum":-1.33,"type":"quantitative","axis":null},"text":{"field":"n"},"color":{"value":"black"}}},
{"mark":{"type":"text","fontSize":17},"encoding":{"x":{"datum":4.47,"type":"quantitative","axis":null},"text":{"field":"pct"}}}]},
{"encoding":{"y":{"field":"c","type":"nominal","title":null,"scale":{"type":"band","paddingInner":0,"paddingOuter":0.1,"domain":["MEG","MOD","LOW"]}},"color":{"field":"c","type":"nominal"}},"layer":[
{"mark":{"type":"errorbar","ticks":true,"size":24,"thickness":1.3},"encoding":{"x":{"field":"wlo","type":"quantitative","scale":{"domain":[-4,3],"nice":false,"zero":false},"axis":null},"x2":{"field":"whi"}}},
{"mark":{"type":"bar","filled":false,"fill":"white","strokeWidth":1.3,"height":{"band":0.75}},"encoding":{"x":{"field":"q1","type":"quantitative","axis":null},"x2":{"field":"q3"}}},
{"mark":{"type":"tick","size":37,"thickness":2.5},"encoding":{"x":{"field":"med","type":"quantitative","axis":null}}},
{"mark":{"type":"point","shape":"circle","filled":false,"fill":"white","size":22,"strokeWidth":1.3,"opacity":1},"encoding":{"x":{"field":"mean","type":"quantitative","axis":null},"color":{"value":"black"}}},
{"data":{"name":"brk"},"transform":[{"filter":"datum.p=='B' && datum.g=='Temperature'"}],"mark":{"type":"rule","strokeWidth":1.3},"encoding":{"x":{"field":"bx","type":"quantitative","axis":null},"y":{"field":"from","type":"nominal","title":null},"y2":{"field":"to"},"color":{"value":"black"}}},
{"data":{"name":"brk"},"transform":[{"filter":"datum.p=='B' && datum.g=='Temperature'"}],"mark":{"type":"rule","strokeWidth":1.3},"encoding":{"x":{"field":"cx","type":"quantitative","axis":null},"x2":{"field":"bx"},"y":{"field":"from","type":"nominal","title":null},"color":{"value":"black"}}},
{"data":{"name":"brk"},"transform":[{"filter":"datum.p=='B' && datum.g=='Temperature'"}],"mark":{"type":"rule","strokeWidth":1.3},"encoding":{"x":{"field":"cx","type":"quantitative","axis":null},"x2":{"field":"bx"},"y":{"field":"to","type":"nominal","title":null},"color":{"value":"black"}}},
{"data":{"name":"brk"},"transform":[{"filter":"datum.p=='B' && datum.g=='Temperature' && !datum.mid"}],"mark":{"type":"text","angle":90,"fontSize":16},"encoding":{"x":{"field":"sx","type":"quantitative","axis":null},"y":{"field":"srow","type":"nominal","bandPosition":1,"title":null},"text":{"field":"star"},"color":{"value":"black"}}},
{"data":{"name":"brk"},"transform":[{"filter":"datum.p=='B' && datum.g=='Temperature' && datum.mid"}],"mark":{"type":"text","angle":90,"fontSize":16},"encoding":{"x":{"field":"sx","type":"quantitative","axis":null},"y":{"field":"srow","type":"nominal","bandPosition":0.5,"title":null},"text":{"field":"star"},"color":{"value":"black"}}}]}]},
{"width":24,"height":155,"view":{"fill":"#EBEBEB","stroke":"#333333","strokeWidth":1.5},"data":{"values":[{"s":"Temperature"}]},"mark":{"type":"text","angle":90,"fontSize":17,"color":"black"},"encoding":{"text":{"field":"s"}}},

{"width":435,"height":203,"data":{"name":"B"},"transform":[{"filter":"datum.g=='Treatment conditions'"}],"resolve":{"scale":{"x":"independent"},"axis":{"x":"independent"}},"layer":[
{"mark":{"type":"rule","color":"#FF0000","strokeDash":[6,4],"strokeWidth":1.5},"encoding":{"x":{"datum":0,"type":"quantitative","scale":{"domain":[-2,5],"nice":false,"zero":false},"axis":null}}},
{"encoding":{"y":{"field":"c","type":"nominal","title":null,"scale":{"type":"band","paddingInner":0,"paddingOuter":0.1,"domain":["Woods","Field","Pot","Incubation"]}},"color":{"field":"c","type":"nominal"}},"layer":[
{"mark":{"type":"errorbar","ticks":true,"size":8,"thickness":1.3},"encoding":{"x":{"field":"elo","type":"quantitative","scale":{"domain":[-2,5],"nice":false,"zero":false},"axis":null},"x2":{"field":"ehi"}}},
{"mark":{"type":"point","shape":"diamond","filled":true,"size":170,"opacity":1},"encoding":{"x":{"field":"es","type":"quantitative","axis":null}}},
{"mark":{"type":"text","fontSize":17},"encoding":{"x":{"datum":-1.33,"type":"quantitative","axis":null},"text":{"field":"n"},"color":{"value":"black"}}},
{"mark":{"type":"text","fontSize":17},"encoding":{"x":{"datum":4.47,"type":"quantitative","axis":null},"text":{"field":"pct"}}}]},
{"encoding":{"y":{"field":"c","type":"nominal","title":null,"scale":{"type":"band","paddingInner":0,"paddingOuter":0.1,"domain":["Woods","Field","Pot","Incubation"]}},"color":{"field":"c","type":"nominal"}},"layer":[
{"mark":{"type":"errorbar","ticks":true,"size":24,"thickness":1.3},"encoding":{"x":{"field":"wlo","type":"quantitative","title":"Response ratio(RR(NH₄⁺-N))","scale":{"domain":[-4,3],"nice":false,"zero":false}},"x2":{"field":"whi"}}},
{"mark":{"type":"bar","filled":false,"fill":"white","strokeWidth":1.3,"height":{"band":0.75}},"encoding":{"x":{"field":"q1","type":"quantitative","title":"Response ratio(RR(NH₄⁺-N))","scale":{"domain":[-4,3],"nice":false,"zero":false},"axis":{"orient":"bottom","title":"Response ratio(RR(NH₄⁺-N))","values":[-4,-3,-2,-1,0,1,2,3],"format":"d","labelFlush":false}},"x2":{"field":"q3"}}},
{"mark":{"type":"tick","size":37,"thickness":2.5},"encoding":{"x":{"field":"med","type":"quantitative"}}},
{"mark":{"type":"point","shape":"circle","filled":false,"fill":"white","size":22,"strokeWidth":1.3,"opacity":1},"encoding":{"x":{"field":"mean","type":"quantitative"},"color":{"value":"black"}}}]}]},
{"width":24,"height":203,"view":{"fill":"#EBEBEB","stroke":"#333333","strokeWidth":1.5},"data":{"values":[{"s":"Treatment conditions"}]},"mark":{"type":"text","angle":90,"fontSize":17,"color":"black"},"encoding":{"text":{"field":"s"}}}
]}
], "spacing": 28},

{"title": {"text": "C", "anchor": "start", "frame": "bounds", "fontSize": 18, "fontWeight": "bold", "dx": -18, "dy": 18},
 "columns": 2, "align": "each", "spacing": 0, "bounds": "flush",
 "concat": [
{"width":437,"height":59,"data":{"name":"C"},"transform":[{"filter":"datum.g=='All'"}],"resolve":{"scale":{"x":"independent"},"axis":{"x":"independent"}},"layer":[
{"mark":{"type":"rule","color":"#FF0000","strokeDash":[6,4],"strokeWidth":1.5},"encoding":{"x":{"datum":0,"type":"quantitative","scale":{"domain":[-2,4],"nice":false,"zero":false},"axis":null}}},
{"encoding":{"y":{"field":"c","type":"nominal","title":null,"scale":{"type":"band","paddingInner":0,"paddingOuter":0.1,"domain":["All"]}},"color":{"field":"c","type":"nominal"}},"layer":[
{"mark":{"type":"errorbar","ticks":true,"size":8,"thickness":1.3},"encoding":{"x":{"field":"elo","type":"quantitative","title":"Mean effect size","scale":{"domain":[-2,4],"nice":false,"zero":false}},"x2":{"field":"ehi"}}},
{"mark":{"type":"point","shape":"diamond","filled":true,"size":170,"opacity":1},"encoding":{"x":{"field":"es","type":"quantitative","title":"Mean effect size","scale":{"domain":[-2,4],"nice":false,"zero":false},"axis":{"orient":"top","title":"Mean effect size","values":[-2,-1,0,1,2,3,4],"format":"d","labelFlush":false}}}},
{"mark":{"type":"text","fontSize":17},"encoding":{"x":{"datum":-1.30,"type":"quantitative"},"text":{"field":"n"},"color":{"value":"black"}}},
{"mark":{"type":"text","fontSize":17},"encoding":{"x":{"datum":3.51,"type":"quantitative"},"text":{"field":"pct"}}}]},
{"encoding":{"y":{"field":"c","type":"nominal","title":null,"scale":{"type":"band","paddingInner":0,"paddingOuter":0.1,"domain":["All"]}},"color":{"field":"c","type":"nominal"}},"layer":[
{"mark":{"type":"errorbar","ticks":true,"size":24,"thickness":1.3},"encoding":{"x":{"field":"wlo","type":"quantitative","scale":{"domain":[-4,2],"nice":false,"zero":false},"axis":null},"x2":{"field":"whi"}}},
{"mark":{"type":"bar","filled":false,"fill":"white","strokeWidth":1.3,"height":{"band":0.75}},"encoding":{"x":{"field":"q1","type":"quantitative","axis":null},"x2":{"field":"q3"}}},
{"mark":{"type":"tick","size":37,"thickness":2.5},"encoding":{"x":{"field":"med","type":"quantitative","axis":null}}},
{"mark":{"type":"point","shape":"circle","filled":false,"fill":"white","size":22,"strokeWidth":1.3,"opacity":1},"encoding":{"x":{"field":"mean","type":"quantitative","axis":null},"color":{"value":"black"}}}]}]},
{"width":33,"height":59,"view":{"fill":"#EBEBEB","stroke":"#333333","strokeWidth":1.5},"data":{"values":[{"s":"All"}]},"mark":{"type":"text","angle":90,"fontSize":17,"color":"black"},"encoding":{"text":{"field":"s"}}},

{"width":437,"height":205,"data":{"name":"C"},"transform":[{"filter":"datum.g=='Raw material'"}],"resolve":{"scale":{"x":"independent"},"axis":{"x":"independent"}},"layer":[
{"mark":{"type":"rule","color":"#FF0000","strokeDash":[6,4],"strokeWidth":1.5},"encoding":{"x":{"datum":0,"type":"quantitative","scale":{"domain":[-2,4],"nice":false,"zero":false},"axis":null}}},
{"encoding":{"y":{"field":"c","type":"nominal","title":null,"scale":{"type":"band","paddingInner":0,"paddingOuter":0.1,"domain":["WB","CH","CS","OW"]}},"color":{"field":"c","type":"nominal"}},"layer":[
{"mark":{"type":"errorbar","ticks":true,"size":8,"thickness":1.3},"encoding":{"x":{"field":"elo","type":"quantitative","scale":{"domain":[-2,4],"nice":false,"zero":false},"axis":null},"x2":{"field":"ehi"}}},
{"mark":{"type":"point","shape":"diamond","filled":true,"size":170,"opacity":1},"encoding":{"x":{"field":"es","type":"quantitative","axis":null}}},
{"mark":{"type":"text","fontSize":17},"encoding":{"x":{"datum":-1.30,"type":"quantitative","axis":null},"text":{"field":"n"},"color":{"value":"black"}}},
{"mark":{"type":"text","fontSize":17},"encoding":{"x":{"datum":3.51,"type":"quantitative","axis":null},"text":{"field":"pct"}}}]},
{"encoding":{"y":{"field":"c","type":"nominal","title":null,"scale":{"type":"band","paddingInner":0,"paddingOuter":0.1,"domain":["WB","CH","CS","OW"]}},"color":{"field":"c","type":"nominal"}},"layer":[
{"mark":{"type":"errorbar","ticks":true,"size":24,"thickness":1.3},"encoding":{"x":{"field":"wlo","type":"quantitative","scale":{"domain":[-4,2],"nice":false,"zero":false},"axis":null},"x2":{"field":"whi"}}},
{"mark":{"type":"bar","filled":false,"fill":"white","strokeWidth":1.3,"height":{"band":0.75}},"encoding":{"x":{"field":"q1","type":"quantitative","axis":null},"x2":{"field":"q3"}}},
{"mark":{"type":"tick","size":37,"thickness":2.5},"encoding":{"x":{"field":"med","type":"quantitative","axis":null}}},
{"mark":{"type":"point","shape":"circle","filled":false,"fill":"white","size":22,"strokeWidth":1.3,"opacity":1},"encoding":{"x":{"field":"mean","type":"quantitative","axis":null},"color":{"value":"black"}}}]}]},
{"width":33,"height":205,"view":{"fill":"#EBEBEB","stroke":"#333333","strokeWidth":1.5},"data":{"values":[{"s":"Raw material"}]},"mark":{"type":"text","angle":90,"fontSize":17,"color":"black"},"encoding":{"text":{"field":"s"}}},

{"width":437,"height":156,"data":{"name":"C"},"transform":[{"filter":"datum.g=='Temperature'"}],"resolve":{"scale":{"x":"independent"},"axis":{"x":"independent"}},"layer":[
{"mark":{"type":"rule","color":"#FF0000","strokeDash":[6,4],"strokeWidth":1.5},"encoding":{"x":{"datum":0,"type":"quantitative","scale":{"domain":[-2,4],"nice":false,"zero":false},"axis":null}}},
{"encoding":{"y":{"field":"c","type":"nominal","title":null,"scale":{"type":"band","paddingInner":0,"paddingOuter":0.1,"domain":["MEG","MOD","LOW"]}},"color":{"field":"c","type":"nominal"}},"layer":[
{"mark":{"type":"errorbar","ticks":true,"size":8,"thickness":1.3},"encoding":{"x":{"field":"elo","type":"quantitative","scale":{"domain":[-2,4],"nice":false,"zero":false},"axis":null},"x2":{"field":"ehi"}}},
{"mark":{"type":"point","shape":"diamond","filled":true,"size":170,"opacity":1},"encoding":{"x":{"field":"es","type":"quantitative","axis":null}}},
{"mark":{"type":"text","fontSize":17},"encoding":{"x":{"datum":-1.30,"type":"quantitative","axis":null},"text":{"field":"n"},"color":{"value":"black"}}},
{"mark":{"type":"text","fontSize":17},"encoding":{"x":{"datum":3.51,"type":"quantitative","axis":null},"text":{"field":"pct"}}}]},
{"encoding":{"y":{"field":"c","type":"nominal","title":null,"scale":{"type":"band","paddingInner":0,"paddingOuter":0.1,"domain":["MEG","MOD","LOW"]}},"color":{"field":"c","type":"nominal"}},"layer":[
{"mark":{"type":"errorbar","ticks":true,"size":24,"thickness":1.3},"encoding":{"x":{"field":"wlo","type":"quantitative","scale":{"domain":[-4,2],"nice":false,"zero":false},"axis":null},"x2":{"field":"whi"}}},
{"mark":{"type":"bar","filled":false,"fill":"white","strokeWidth":1.3,"height":{"band":0.75}},"encoding":{"x":{"field":"q1","type":"quantitative","axis":null},"x2":{"field":"q3"}}},
{"mark":{"type":"tick","size":37,"thickness":2.5},"encoding":{"x":{"field":"med","type":"quantitative","axis":null}}},
{"mark":{"type":"point","shape":"circle","filled":false,"fill":"white","size":22,"strokeWidth":1.3,"opacity":1},"encoding":{"x":{"field":"mean","type":"quantitative","axis":null},"color":{"value":"black"}}}]}]},
{"width":33,"height":156,"view":{"fill":"#EBEBEB","stroke":"#333333","strokeWidth":1.5},"data":{"values":[{"s":"Temperature"}]},"mark":{"type":"text","angle":90,"fontSize":17,"color":"black"},"encoding":{"text":{"field":"s"}}},

{"width":437,"height":205,"data":{"name":"C"},"transform":[{"filter":"datum.g=='Treatment conditions'"}],"resolve":{"scale":{"x":"independent"},"axis":{"x":"independent"}},"layer":[
{"mark":{"type":"rule","color":"#FF0000","strokeDash":[6,4],"strokeWidth":1.5},"encoding":{"x":{"datum":0,"type":"quantitative","scale":{"domain":[-2,4],"nice":false,"zero":false},"axis":null}}},
{"encoding":{"y":{"field":"c","type":"nominal","title":null,"scale":{"type":"band","paddingInner":0,"paddingOuter":0.1,"domain":["Woods","Field","Pot","Incubation"]}},"color":{"field":"c","type":"nominal"}},"layer":[
{"mark":{"type":"errorbar","ticks":true,"size":8,"thickness":1.3},"encoding":{"x":{"field":"elo","type":"quantitative","scale":{"domain":[-2,4],"nice":false,"zero":false},"axis":null},"x2":{"field":"ehi"}}},
{"mark":{"type":"point","shape":"diamond","filled":true,"size":170,"opacity":1},"encoding":{"x":{"field":"es","type":"quantitative","axis":null}}},
{"mark":{"type":"text","fontSize":17},"encoding":{"x":{"datum":-1.30,"type":"quantitative","axis":null},"text":{"field":"n"},"color":{"value":"black"}}},
{"mark":{"type":"text","fontSize":17},"encoding":{"x":{"datum":3.51,"type":"quantitative","axis":null},"text":{"field":"pct"}}}]},
{"encoding":{"y":{"field":"c","type":"nominal","title":null,"scale":{"type":"band","paddingInner":0,"paddingOuter":0.1,"domain":["Woods","Field","Pot","Incubation"]}},"color":{"field":"c","type":"nominal"}},"layer":[
{"mark":{"type":"errorbar","ticks":true,"size":24,"thickness":1.3},"encoding":{"x":{"field":"wlo","type":"quantitative","title":"Response ratio(RR(NO₃⁻-N))","scale":{"domain":[-4,2],"nice":false,"zero":false}},"x2":{"field":"whi"}}},
{"mark":{"type":"bar","filled":false,"fill":"white","strokeWidth":1.3,"height":{"band":0.75}},"encoding":{"x":{"field":"q1","type":"quantitative","title":"Response ratio(RR(NO₃⁻-N))","scale":{"domain":[-4,2],"nice":false,"zero":false},"axis":{"orient":"bottom","title":"Response ratio(RR(NO₃⁻-N))","values":[-4,-3,-2,-1,0,1,2],"format":"d","labelFlush":false}},"x2":{"field":"q3"}}},
{"mark":{"type":"tick","size":37,"thickness":2.5},"encoding":{"x":{"field":"med","type":"quantitative"}}},
{"mark":{"type":"point","shape":"circle","filled":false,"fill":"white","size":22,"strokeWidth":1.3,"opacity":1},"encoding":{"x":{"field":"mean","type":"quantitative"},"color":{"value":"black"}}}]}]},
{"width":33,"height":205,"view":{"fill":"#EBEBEB","stroke":"#333333","strokeWidth":1.5},"data":{"values":[{"s":"Treatment conditions"}]},"mark":{"type":"text","angle":90,"fontSize":17,"color":"black"},"encoding":{"text":{"field":"s"}}}
]}
],
"config": {
 "font": "Liberation Serif",
 "view": {"stroke": "#333333", "strokeWidth": 1.5},
 "axis": {"grid": false, "domain": false, "labelColor": "#4D4D4D", "titleColor": "#000000", "tickColor": "#333333", "labelFontSize": 17, "titleFontSize": 22, "titleFontWeight": "normal", "titlePadding": 2, "labelFont": "Liberation Serif", "titleFont": "Liberation Serif"},
 "axisX": {"tickSize": 3, "labelPadding": 0},
 "axisY": {"labelFontSize": 18, "labelPadding": 2, "tickSize": 4},
 "text": {"font": "Liberation Serif"},
 "title": {"font": "Liberation Serif", "color": "#000000"},
 "legend": {"disable": true},
 "range": {"category": ["#F08080","#8A2BE2","#F47A22","#1FE59A","#3473D6","#1EE61E","#E6A11C","#1010EE","#7CEA10","#1FDFF0","#6DA91D","#D45FB6"]},
 "locale": {"number": {"decimal": ".", "thousands": ",", "grouping": [3], "currency": ["$", ""], "minus": "-"}}
}
}
